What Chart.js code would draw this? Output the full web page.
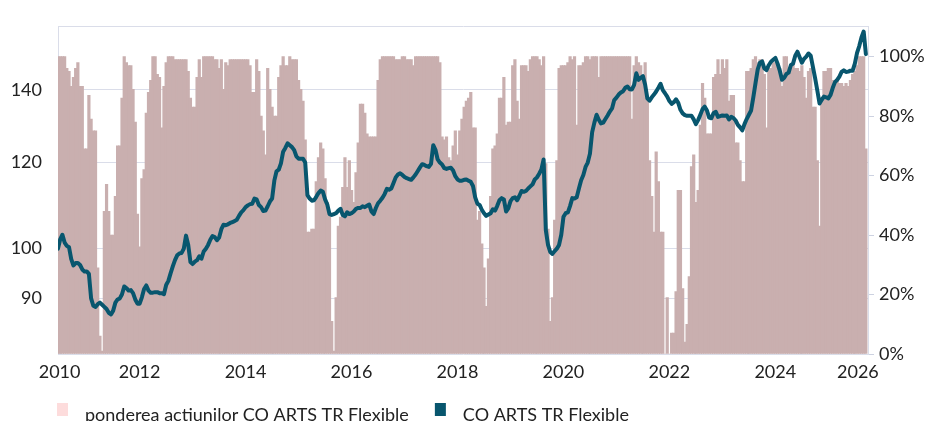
<!DOCTYPE html>
<html>
<head>
<meta charset="utf-8">
<script src="https://cdn.jsdelivr.net/npm/chart.js@4.4.1/dist/chart.umd.min.js"></script>
<style>
  body { margin: 0; background: #fff; }
</style>
</head>
<body>
<canvas id="chart" width="925" height="421"></canvas>
<script>
// semi-monthly observations, first one mid-December 2010
const START = 2010.96;
const STEP = 1 / 24;
const X_MIN = 2010.96;
const X_MAX = 2026.25;

const yearTicks = [2011, 2012, 2013, 2014, 2015, 2016, 2017, 2018, 2019, 2020, 2021, 2022, 2023, 2024, 2025, 2026];
const xLabelYears = [2010, 2012, 2014, 2016, 2018, 2020, 2022, 2024, 2026];
const indexTicks = [90, 100, 120, 140];
const weightTicks = [0, 20, 40, 60, 80, 100];

// ponderea actiunilor (%)
const equityWeight = [
  100, 100, 100, 100, 96, 95, 90, 93, 96, 98,
  90, 90, 69, 69, 87, 79, 75, 75, 29, 6,
  1, 48, 57, 48, 40, 40, 53, 70, 70, 86,
  100, 98, 97, 97, 89, 78, 47, 36, 59, 62,
  81, 88, 92, 100, 100, 94, 93, 76, 90, 98,
  100, 100, 100, 99, 99, 99, 99, 99, 99, 95,
  86, 83, 83, 93, 99, 93, 100, 100, 100, 100,
  100, 99, 99, 96, 99, 89, 98, 97, 99, 99,
  99, 99, 99, 99, 99, 99, 99, 97, 88, 88,
  99, 95, 80, 75, 67, 96, 89, 83, 80, 80,
  93, 97, 100, 97, 97, 100, 99, 99, 99, 92,
  89, 85, 72, 41, 41, 42, 42, 58, 66, 71,
  69, 59, 51, 47, 11, 1, 19, 43, 46, 56,
  66, 56, 65, 55, 51, 61, 71, 84, 84, 81,
  74, 73, 73, 73, 73, 92, 99, 100, 100, 100,
  100, 100, 100, 99, 99, 99, 100, 100, 99, 99,
  99, 97, 100, 100, 100, 100, 100, 100, 100, 100,
  100, 100, 100, 98, 73, 72, 73, 66, 65, 70,
  75, 67, 75, 79, 83, 85, 86, 88, 76, 76,
  45, 48, 37, 29, 16, 32, 53, 69, 70, 74,
  86, 86, 93, 77, 78, 78, 97, 99, 85, 79,
  97, 97, 97, 95, 99, 100, 100, 100, 99, 97,
  100, 64, 42, 11, 19, 45, 65, 96, 97, 97,
  97, 98, 100, 99, 100, 77, 97, 97, 98, 100,
  100, 99, 100, 100, 100, 93, 100, 100, 100, 100,
  100, 100, 100, 100, 100, 100, 100, 100, 100, 100,
  79, 97, 100, 98, 97, 93, 98, 86, 65, 53,
  41, 68, 58, 41, 41, 0, 19, 0, 7, 7,
  21, 55, 55, 22, 4, 10, 26, 63, 67, 51,
  55, 77, 91, 86, 74, 74, 74, 93, 94, 99,
  94, 99, 96, 99, 85, 87, 87, 71, 71, 65,
  58, 58, 95, 95, 96, 99, 100, 98, 99, 99,
  94, 76, 96, 96, 98, 98, 97, 96, 90, 100,
  100, 94, 96, 98, 96, 96, 95, 97, 93, 86,
  95, 96, 83, 83, 65, 43, 85, 95, 95, 96,
  96, 92, 92, 92, 91, 91, 90, 91, 90, 92,
  94, 95, 97, 100, 100, 100, 69
];

// CO ARTS TR Flexible (start = 100)
const fundIndex = [
  100, 102, 103, 101.3, 100.6, 100.3, 97.8, 96.5, 97, 97,
  96.6, 95.7, 95.3, 95.3, 94.8, 90, 88.6, 88.4, 88.9, 89.2,
  88.8, 88.4, 88, 87.3, 87, 87.7, 89.2, 89.8, 90, 90.8,
  92.3, 92, 91.5, 91.6, 91, 89.8, 89, 89, 90.2, 91.8,
  92.5, 91.5, 91.1, 91.1, 91.2, 91.2, 91, 91, 90.8, 92.6,
  93.4, 94.9, 96.3, 97.6, 98.6, 99, 99.1, 100, 102.8, 100.8,
  97.2, 96.8, 97.3, 97.6, 98.4, 97.9, 99.4, 100, 100.8, 101.9,
  102.7, 102.5, 101.8, 102.4, 104.2, 105.2, 105.1, 105.3, 105.6, 105.8,
  106, 106.3, 107.2, 108, 108.5, 109.2, 109.6, 109.9, 110, 111.2,
  111, 109.7, 109.2, 108.3, 108.4, 109.4, 110.5, 111.2, 115.5, 117.8,
  118.2, 119.8, 122.8, 123.8, 125, 124.5, 124, 123.2, 121.6, 121,
  121, 121, 120, 112, 111.2, 110.7, 110.8, 111.6, 112.5, 113.1,
  112.8, 111, 109.8, 107.6, 107.4, 107.6, 107.8, 108.4, 108.8, 107.4,
  107.1, 108, 107.6, 107.8, 108.2, 108.8, 109, 109, 109.4, 109.2,
  109.5, 109.8, 108.2, 107.6, 109, 110.1, 110.7, 111.4, 112.3, 113.5,
  113.3, 113.6, 114.9, 116.3, 117, 117.3, 116.9, 116.4, 116.1, 115.9,
  115.7, 116.3, 117, 117.9, 118.8, 119.6, 119.4, 119.1, 118.9, 119.7,
  124.5, 123.3, 120.8, 120, 119.5, 118.6, 118.4, 118.6, 118.7, 118,
  116.6, 115.8, 115.5, 115.5, 115.7, 115.8, 115.5, 115.2, 114.2, 111.5,
  110, 109.7, 108.6, 107.8, 107.2, 107.5, 107.8, 108.7, 108.4, 109.5,
  110.8, 111.3, 111, 108.2, 108.9, 110.6, 111.3, 111.5, 110.8, 111.8,
  113, 112.8, 113, 113.6, 114.1, 114.6, 115.8, 116.3, 117.2, 118.3,
  120.8, 104, 100.8, 99.3, 98.9, 99.5, 100, 100.8, 103, 107,
  107.8, 108, 109.5, 111.3, 111.2, 111.5, 113.6, 115.6, 116.9, 118.9,
  120, 122.3, 128, 130.6, 132.8, 131.4, 130.4, 130.6, 131.6, 132.6,
  133.7, 134.6, 137, 137.7, 138.6, 139.2, 139.6, 140.6, 141, 140.2,
  140.1, 141.5, 145, 143, 143.6, 144.1, 141.5, 137.5, 136.8, 137.8,
  138.6, 139.5, 140.6, 141.8, 139.9, 139, 138, 136.7, 135.9, 136.4,
  137.2, 136.2, 134.2, 133.2, 132.7, 132.5, 132.5, 132.5, 131.5, 130.2,
  131.3, 132.8, 134.4, 135.1, 134, 132, 131.8, 133.3, 133.6, 132.2,
  132.4, 132.6, 132.5, 132.6, 131.5, 132.2, 131.9, 131.2, 130, 129.3,
  128.5, 130.2, 131.6, 132.8, 134, 137.8, 142, 146.2, 148.3, 148.7,
  146.5, 146, 147.5, 148.6, 149.2, 149.8, 148, 145.8, 143, 143.6,
  144.8, 145.2, 147.5, 148, 150.5, 151.8, 150, 148.3, 149.5, 150.2,
  151.2, 150.5, 147, 143.5, 139.8, 136, 137.1, 138, 137.8, 137.5,
  138.5, 140.6, 142.3, 143, 144, 145.4, 145.9, 145.4, 145.5, 145.8,
  145.8, 148, 151.4, 153.6, 156.4, 158.4, 151
];

const dates = fundIndex.map((_, i) => START + i * STEP);

const GRID = '#dadde9';
const TEXT = '#222';
const FONT = { family: 'Lato', size: 18 };

// legend drawn under the x axis, left aligned like the original
const bottomLegend = {
  id: 'bottomLegend',
  afterDraw(chart) {
    const ctx = chart.ctx;
    ctx.save();
    ctx.font = '18px Lato';
    ctx.textBaseline = 'middle';
    let x = 57;
    chart.data.datasets.forEach(ds => {
      ctx.fillStyle = ds.legendColor;
      ctx.fillRect(x, 403, 11, 13);
      x += 11 + 17;
      ctx.fillStyle = TEXT;
      ctx.fillText(ds.label, x, 415);
      x += ctx.measureText(ds.label).width + 26;
    });
    ctx.restore();
  }
};

new Chart(document.getElementById('chart'), {
  data: {
    datasets: [
      {
        type: 'bar',
        label: 'ponderea actiunilor CO ARTS TR Flexible',
        data: equityWeight.map((v, i) => ({ x: dates[i], y: v })),
        xAxisID: 'x',
        yAxisID: 'y2',
        backgroundColor: '#c9afaf',
        legendColor: '#fddcdc',
        borderWidth: 0,
        barThickness: 'flex',
        barPercentage: 1,
        categoryPercentage: 1.15,
        order: 1
      },
      {
        type: 'line',
        label: 'CO ARTS TR Flexible',
        data: fundIndex.map((v, i) => ({ x: dates[i], y: v })),
        xAxisID: 'x',
        yAxisID: 'y',
        borderColor: '#08566e',
        legendColor: '#08566e',
        borderWidth: 4,
        borderJoinStyle: 'round',
        borderCapStyle: 'round',
        pointRadius: 0,
        tension: 0,
        order: 0
      }
    ]
  },
  options: {
    responsive: false,
    animation: false,
    events: [],
    layout: { padding: { top: 12, bottom: 32, left: 0, right: 0 } },
    plugins: {
      legend: { display: false },
      tooltip: { enabled: false }
    },
    scales: {
      x: {
        type: 'linear',
        position: 'bottom',
        min: X_MIN,
        max: X_MAX,
        offset: false,
        z: 1,
        grid: {
          offset: false,
          drawOnChartArea: false,
          drawTicks: true,
          tickLength: -8,
          tickColor: ctx => (ctx.tick && ctx.tick.name ? 'rgba(0,0,0,0)' : '#cdd2e1')
        },
        border: { display: true, color: GRID },
        ticks: {
          autoSkip: false,
          maxRotation: 0,
          padding: 15,
          color: TEXT,
          font: FONT,
          callback: (value, index, ticks) => ticks[index].name || ''
        },
        afterBuildTicks: scale => {
          const marks = yearTicks.map(v => ({ value: v }));
          const labels = xLabelYears.map(y => ({
            value: Math.min(Math.max(y + 0.5, X_MIN + 0.03), X_MAX - 0.19),
            name: String(y)
          }));
          scale.ticks = marks.concat(labels).sort((a, b) => a.value - b.value);
        },
        afterFit: scale => { scale.height = 35; }
      },
      y: {
        type: 'logarithmic',
        position: 'left',
        min: 80,
        max: 160,
        grid: { color: GRID, drawTicks: false },
        border: { display: true, color: GRID },
        ticks: {
          padding: 16,
          color: TEXT,
          font: FONT,
          callback: v => (indexTicks.includes(v) ? String(v) : '')
        },
        afterBuildTicks: scale => {
          scale.ticks = indexTicks.concat([160]).map(v => ({ value: v }));
        },
        afterFit: scale => { scale.width = 58; }
      },
      y2: {
        type: 'linear',
        position: 'right',
        min: 0,
        max: 110,
        grid: { drawOnChartArea: false, drawTicks: true, tickLength: 6, tickColor: '#cdd2e1' },
        border: { display: true, color: GRID },
        ticks: {
          padding: 5,
          color: TEXT,
          font: FONT,
          callback: v => v + '%'
        },
        afterBuildTicks: scale => {
          scale.ticks = weightTicks.map(v => ({ value: v }));
        },
        afterFit: scale => { scale.width = 57; }
      }
    }
  },
  plugins: [bottomLegend]
});
</script>
</body>
</html>
